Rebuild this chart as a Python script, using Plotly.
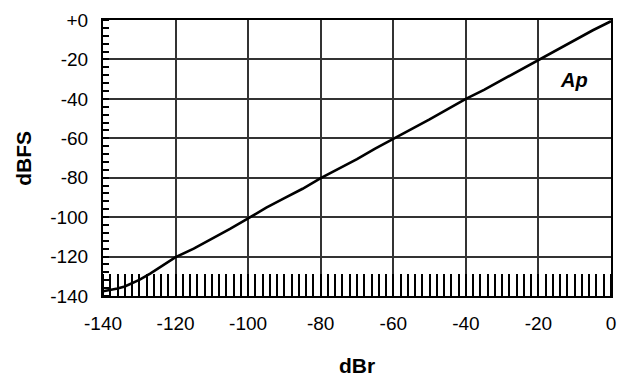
import plotly.graph_objects as go

dbr = [-140, -138, -136, -134, -132, -130, -127, -124, -120, -115, -110, -105, -100, -95,
       -90, -85, -80, -75, -70, -65, -60, -55, -50, -45, -40, -35, -30, -25, -20, -15, -10, -5, 0]
dbfs = [-137.6, -137.0, -136.2, -135.2, -133.6, -131.8, -128.6, -125.0, -120.3, -116.0, -111.2,
        -106.0, -100.6, -95.2, -90.4, -85.6, -80.2, -75.4, -70.6, -65.2, -60.4, -55.6, -50.4,
        -45.2, -40.0, -35.4, -30.4, -25.2, -20.2, -15.0, -10.4, -5.2, -0.6]

x_ticks = [-140, -120, -100, -80, -60, -40, -20, 0]
x_labels = ["-140", "-120", "-100", "-80", "-60", "-40", "-20", "0"]
y_ticks = [0, -20, -40, -60, -80, -100, -120, -140]
y_labels = ["+0", "-20", "-40", "-60", "-80", "-100", "-120", "-140"]

FAM = "Liberation Sans, Arial, sans-serif"

fig = go.Figure()
fig.add_trace(go.Scatter(x=dbr, y=dbfs, mode="lines",
                         line=dict(color="black", width=2.6), showlegend=False))

fig.update_layout(
    width=626, height=383,
    margin=dict(l=103, r=10, t=18, b=87),
    paper_bgcolor="white", plot_bgcolor="white",
    font=dict(family=FAM, size=19, color="black"),
    xaxis=dict(range=[-140, 0], tickvals=x_ticks, ticktext=x_labels,
               showgrid=True, gridcolor="#333", gridwidth=1.5,
               showline=True, linecolor="black", linewidth=2, mirror=True,
               ticks="", ticklabelstandoff=9, zeroline=False,
               minor=dict(dtick=2, ticks="inside", ticklen=22, tickcolor="black",
                          tickwidth=1.5, showgrid=False)),
    yaxis=dict(range=[-140, 0], tickvals=y_ticks, ticktext=y_labels,
               showgrid=True, gridcolor="#333", gridwidth=1.5,
               showline=True, linecolor="black", linewidth=2, mirror=True,
               ticks="", ticklabelstandoff=9, zeroline=False,
               minor=dict(dtick=4, ticks="inside", ticklen=6, tickcolor="black",
                          tickwidth=1.5, showgrid=False)),
    annotations=[
        dict(text="<b>dBr</b>", x=0.5, xref="paper", y=-(366 - 296) / 278, yref="paper",
             yanchor="middle", showarrow=False, font=dict(family=FAM, size=21)),
        dict(text="<b>dBFS</b>", textangle=-90, x=-(103 - 22) / 513, xref="paper",
             xanchor="center", y=0.5, yref="paper",
             showarrow=False, font=dict(family=FAM, size=21)),
        dict(text="<b><i>Ap</i></b>", x=-10.2, y=-30.5, xref="x", yref="y", showarrow=False,
             font=dict(family=FAM, size=20)),
    ],
)

fig.write_html("out.html")
